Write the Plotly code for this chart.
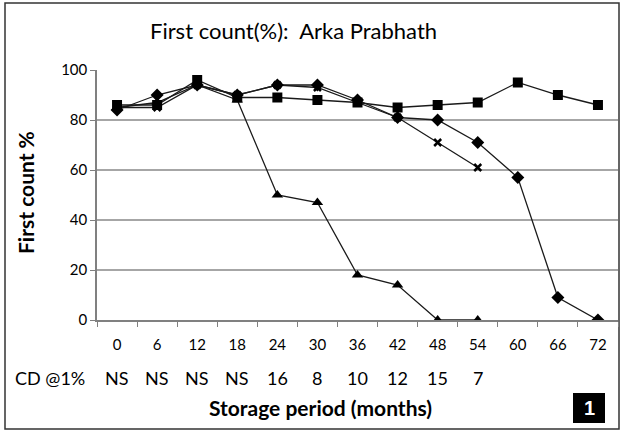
import plotly.graph_objects as go

months = ["0", "6", "12", "18", "24", "30", "36", "42", "48", "54", "60", "66", "72"]
series_square = [86, 86, 96, 89, 89, 88, 87, 85, 86, 87, 95, 90, 86]
series_triangle = [85, 87, 94, 88, 50, 47, 18, 14, 0, 0]
series_cross = [85, 85, 94, 90, 94, 93, 87, 81, 71, 61]
series_diamond = [84, 90, 94, 90, 94, 94, 88, 81, 80, 71, 57, 9, 0]
cd_labels = ["NS", "NS", "NS", "NS", "16", "8", "10", "12", "15", "7"]
y_ticks = [0, 20, 40, 60, 80, 100]

FONT = "Lato"
fig = go.Figure()

def add(vals, symbol, size, lw=0):
    fig.add_trace(go.Scatter(
        x=months[:len(vals)], y=vals, mode="lines+markers",
        line=dict(color="#1a1a1a", width=1.3),
        marker=dict(symbol=symbol, size=size, color="black",
                    line=dict(width=lw, color="black")),
        showlegend=False))

add(series_triangle, "triangle-up", 10)
add(series_cross, "x-thin", 7, 2.5)
add(series_diamond, "diamond", 10)
add(series_square, "square", 10)

fig.update_layout(
    width=623, height=433,
    margin=dict(l=97, r=5, t=70, b=113),
    paper_bgcolor="white", plot_bgcolor="white",
    font=dict(family=FONT, color="black", size=14),
    xaxis=dict(type="category", range=[-0.5, 12.5], showline=True,
               linecolor="#808080", linewidth=1.5, ticks="outside",
               tickson="boundaries", ticklen=5, tickcolor="#808080",
               ticklabelstandoff=10,
               showgrid=False, tickfont=dict(size=15, family=FONT)),
    yaxis=dict(range=[0, 100], tickvals=y_ticks, showline=True,
               linecolor="#808080", linewidth=1.5, ticks="outside",
               ticklen=5, tickcolor="#808080", gridcolor="#a6a6a6",
               gridwidth=2, zeroline=False, tickfont=dict(size=15, family=FONT)),
)

def pa(text, px, py, size, **kw):
    d = dict(text=text, x=(px - 97) / 521, y=(320 - py) / 250,
             xref="paper", yref="paper", showarrow=False,
             xanchor="center", yanchor="middle",
             font=dict(size=size, family=FONT, color=kw.pop("color", "black")))
    d.update(kw)
    return d

ann = []
ann.append(pa("First count(%):  Arka Prabhath", 293, 30, 22))
ann.append(pa("<b>First count %</b>", 25, 193, 21, textangle=-90))
ann.append(pa("CD @1%", 50, 378, 18))
for i, lab in enumerate(cd_labels):
    ann.append(dict(text=lab, x=i, y=(320 - 378) / 250, xref="x", yref="paper",
                    xanchor="center", yanchor="middle", showarrow=False,
                    font=dict(size=18, family=FONT)))
ann.append(pa("<b>Storage period (months)</b>", 320, 408, 21))
ann.append(pa("<b>1</b>", 589, 408, 20, color="white"))
ann[-1]["font"]["family"] = "Liberation Sans"
fig.update_layout(annotations=ann)

fig.update_layout(shapes=[
    dict(type="rect", xref="paper", yref="paper",
         x0=(5 - 97) / 521, x1=(619 - 97) / 521,
         y0=(320 - 429) / 250, y1=(320 - 3) / 250,
         line=dict(color="#333333", width=1.5), layer="below"),
    dict(type="rect", xref="paper", yref="paper",
         x0=(573 - 97) / 521, x1=(605 - 97) / 521,
         y0=(320 - 423) / 250, y1=(320 - 393) / 250,
         fillcolor="black", line=dict(width=0), layer="below"),
])

fig.write_html("out.html", config={"displayModeBar": False},
               post_script="document.body.style.margin='0';document.body.style.overflow='hidden';")
